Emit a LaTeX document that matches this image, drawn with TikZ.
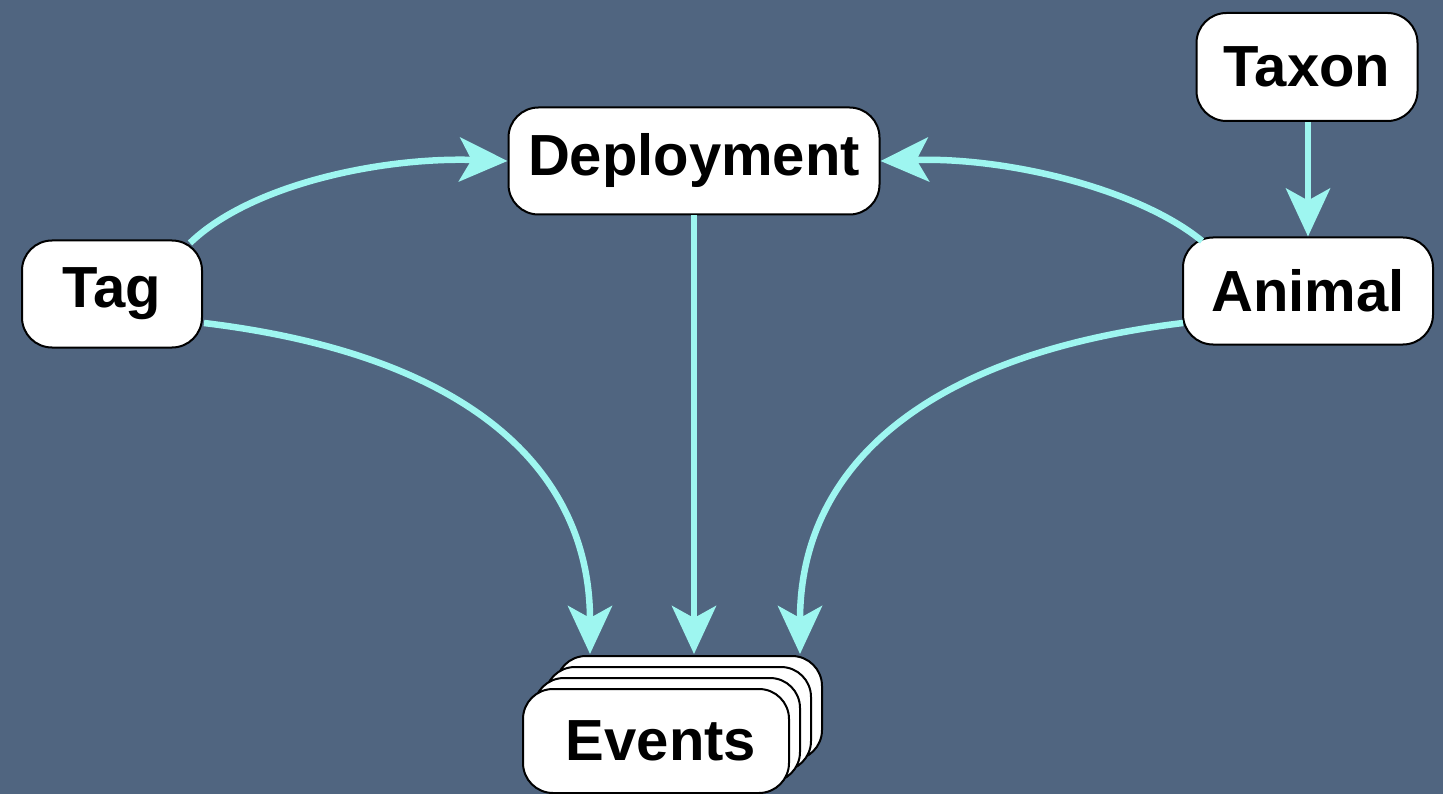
\documentclass[tikz,border=0pt]{standalone}
\usepackage{fontspec}
\setmainfont{Liberation Sans}
\usetikzlibrary{arrows.meta}
\definecolor{bgcol}{RGB}{80,101,128}
\definecolor{arrcol}{RGB}{158,246,240}
\tikzset{
  box/.style={draw=black, fill=white, line width=2pt, rounded corners=30pt,
    font=\fontsize{58}{62}\selectfont\bfseries, inner sep=0pt, minimum height=107pt},
  conn/.style={draw=arrcol, line width=6.5pt, -{Stealth[length=48pt,width=44pt,inset=12pt]}}
}
\begin{document}
\begin{tikzpicture}[x=1pt,y=-1pt]
\fill[bgcol] (0,0) rectangle (1443,794);
\useasboundingbox (0,0) rectangle (1443,794);
\node[box, minimum width=221pt, minimum height=108pt] (taxon) at (1307,67) {Taxon};
\node[box, minimum width=371pt] (deploy) at (694,161) {Deployment};
\node[box, minimum width=180pt] (tag) at (112,294) {Tag};
\node[box, minimum width=250pt] (animal) at (1308,291) {Animal};
\node[box, minimum width=266pt, minimum height=104pt] (ev3) at (689,708) {};
\node[box, minimum width=266pt, minimum height=104pt] (ev2) at (678,719) {};
\node[box, minimum width=266pt, minimum height=104pt] (ev1) at (667,730) {};
\node[box, minimum width=266pt, minimum height=104pt] (events) at (656,741) {\hspace*{10pt}Events};
\coordinate (eA) at (590,654);
\coordinate (eB) at (694,654);
\coordinate (eC) at (800,654);
\coordinate (tagA) at (190,243);
\coordinate (tagB) at (204,323);
\coordinate (anA) at (1202,241);
\coordinate (anB) at (1183,323);
\draw[conn] (tagA) .. controls (250,185) and (380,157) .. (deploy.west);
\draw[conn] (anA) .. controls (1140,190) and (1010,157) .. (deploy.east);
\draw[conn] (deploy.south) -- (eB);
\draw[conn] (tagB) .. controls (470,355) and (590,470) .. (eA);
\draw[conn] (anB) .. controls (920,355) and (800,470) .. (eC);
\draw[conn] (taxon.south -| animal.north) -- (animal.north);
\end{tikzpicture}
\end{document}
